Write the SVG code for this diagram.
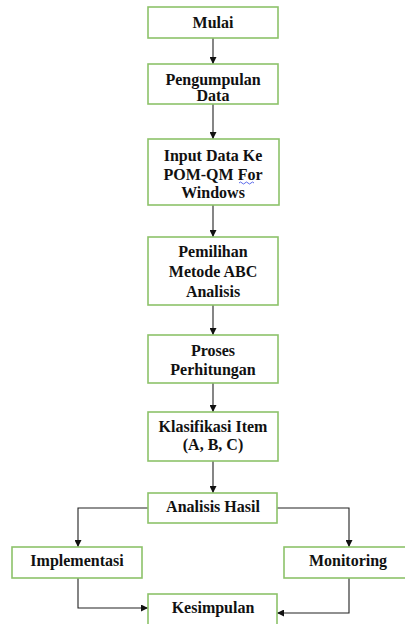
<svg xmlns="http://www.w3.org/2000/svg" width="405" height="624" viewBox="0 0 405 624">
<defs>
<style>
.box{fill:#fff;stroke:#8DC26A;stroke-width:1.6}
.t{font-weight:bold;font-size:16px;fill:#111;text-anchor:middle}
.c{fill:none;stroke:#222;stroke-width:1.1}
</style>
<marker id="ah" viewBox="0 0 10 10" refX="10" refY="5" markerWidth="7" markerHeight="7" markerUnits="userSpaceOnUse" orient="auto">
<path d="M0,0 L10,5 L0,10 z" fill="#111"/>
</marker>
</defs>
<rect width="405" height="624" fill="#fff"/>
<g id="connectors">
<line class="c" x1="213" y1="38" x2="213" y2="64" marker-end="url(#ah)"/>
<line class="c" x1="213" y1="104" x2="213" y2="139" marker-end="url(#ah)"/>
<line class="c" x1="213" y1="205" x2="213" y2="237" marker-end="url(#ah)"/>
<line class="c" x1="213" y1="305" x2="213" y2="335" marker-end="url(#ah)"/>
<line class="c" x1="213" y1="383" x2="213" y2="412" marker-end="url(#ah)"/>
<line class="c" x1="213" y1="461" x2="213" y2="493" marker-end="url(#ah)"/>
<polyline class="c" points="148,508 78,508 78,547" marker-end="url(#ah)"/>
<polyline class="c" points="277,508 349,508 349,547" marker-end="url(#ah)"/>
<polyline class="c" points="78,578 78,608 148,608" marker-end="url(#ah)"/>
<polyline class="c" points="349,578 349,613 277,613" marker-end="url(#ah)"/>
</g>
<g font-family="Liberation Serif, Times New Roman, serif">
<g id="mulai"><rect class="box" x="148" y="7" width="130" height="31"/><text class="t" x="213" y="28">Mulai</text></g>
<g id="pengumpulan"><rect class="box" x="148" y="64" width="130" height="40"/><text class="t" x="213" y="85">Pengumpulan</text><text class="t" x="213" y="101">Data</text></g>
<g id="input"><rect class="box" x="148" y="139" width="131" height="66"/><text class="t" x="213" y="161">Input Data Ke</text><text class="t" x="213" y="180">POM-QM For</text><text class="t" x="213" y="198">Windows</text>
<path d="M239,183 q1.5,-2 3,0 t3,0 t3,0 t3,0 t3,0" fill="none" stroke="#4a5ae8" stroke-width="0.9"/></g>
<g id="pemilihan"><rect class="box" x="148" y="237" width="130" height="68"/><text class="t" x="213" y="257">Pemilihan</text><text class="t" x="213" y="277">Metode ABC</text><text class="t" x="213" y="297">Analisis</text></g>
<g id="proses"><rect class="box" x="148" y="335" width="130" height="48"/><text class="t" x="213" y="356">Proses</text><text class="t" x="213" y="375">Perhitungan</text></g>
<g id="klasifikasi"><rect class="box" x="148" y="412" width="130" height="49"/><text class="t" x="213" y="432">Klasifikasi Item</text><text class="t" x="213" y="450">(A, B, C)</text></g>
<g id="analisis"><rect class="box" x="148" y="493" width="129" height="30"/><text class="t" x="213" y="512">Analisis Hasil</text></g>
<g id="implementasi"><rect class="box" x="12" y="547" width="130" height="31"/><text class="t" x="77" y="566">Implementasi</text></g>
<g id="monitoring"><rect class="box" x="284" y="547" width="125" height="31"/><text class="t" x="348" y="566">Monitoring</text></g>
<g id="kesimpulan"><rect class="box" x="148" y="594" width="129" height="34"/><text class="t" x="213" y="613">Kesimpulan</text></g>
</g>
</svg>
